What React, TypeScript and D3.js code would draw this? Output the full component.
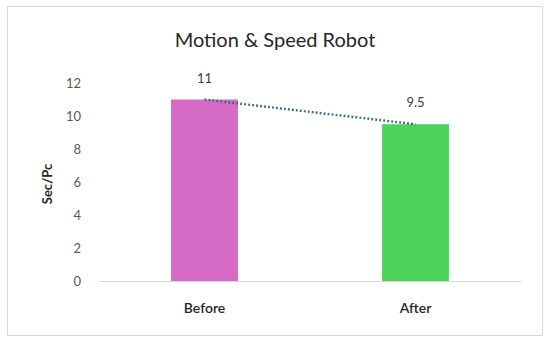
import React from 'react';
import * as d3 from 'd3';

const categories = ['Before', 'After'];
const values = [11, 9.5];
const barColors = ['#d56bc7', '#4cd35b'];
const yTicks = [0, 2, 4, 6, 8, 10, 12];

const W = 550;
const H = 343;

export default function App() {
  // plot area
  const left = 99, right = 521, top = 83, bottom = 281;

  const x = d3.scaleBand<string>().domain(categories).range([left, right]).padding(0);
  const y = d3.scaleLinear().domain([0, 12]).range([bottom, top]);
  const barW = x.bandwidth() * 0.317;

  const cx = (c: string) => (x(c) ?? 0) + x.bandwidth() / 2;

  const trend = d3.line<number>()
    .x((d, i) => cx(categories[i]))
    .y((d) => y(d));

  return (
    <div style={{ position: 'fixed', left: 0, top: 0 }}>
      <svg width={W} height={H} style={{ display: 'block', fontFamily: 'Lato, "Noto Sans", sans-serif' }}>
        <rect x={0} y={0} width={W} height={H} fill="#ffffff" />
        <rect x={7.5} y={6.5} width={535} height={329} fill="#ffffff" stroke="#d9d9d9" strokeWidth={1} />

        <text x={275} y={47} textAnchor="middle" fontSize={20} fill="#262626">Motion &amp; Speed Robot</text>

        {yTicks.map((t) => (
          <text key={t} x={81} y={y(t)} dy="0.35em" textAnchor="end" fontSize={13} fill="#595959">{t}</text>
        ))}

        <text transform={`translate(52,${(top + bottom) / 2 + 2}) rotate(-90)`} textAnchor="middle"
          fontSize={13} fontWeight="bold" fill="#262626">Sec/Pc</text>

        {categories.map((c, i) => (
          <rect key={c} x={cx(c) - barW / 2} y={y(values[i])} width={barW}
            height={y(0) - y(values[i])} fill={barColors[i]} />
        ))}

        <line x1={left} x2={right} y1={bottom + 0.5} y2={bottom + 0.5} stroke="#d9d9d9" strokeWidth={1} />

        <path d={trend(values) ?? ''} fill="none" stroke="#2e6a8c" strokeWidth={2.4}
          strokeDasharray="1.8 2.2" />

        {categories.map((c, i) => (
          <text key={c} x={cx(c)} y={y(values[i]) - 17} textAnchor="middle" fontSize={13} fill="#404040">{values[i]}</text>
        ))}

        {categories.map((c) => (
          <text key={c} x={cx(c)} y={313} textAnchor="middle" fontSize={14} fontWeight={600} fill="#262626">{c}</text>
        ))}
      </svg>
    </div>
  );
}
